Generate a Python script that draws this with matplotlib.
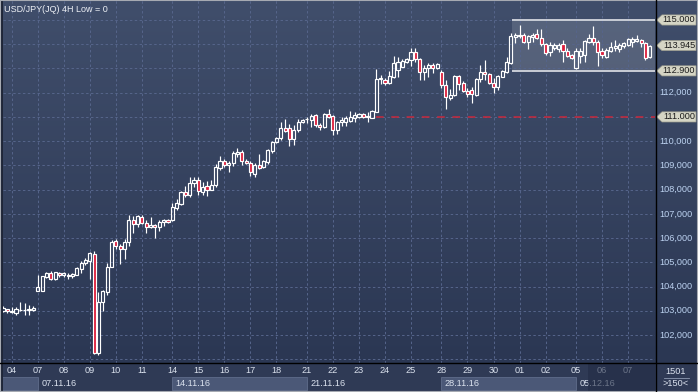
import numpy as np
import matplotlib
matplotlib.use("Agg")
import matplotlib.pyplot as plt
from matplotlib.patches import Rectangle, Polygon
from matplotlib.colors import LinearSegmentedColormap
from matplotlib.lines import Line2D

plt.rcParams['font.family'] = ['Liberation Sans', 'DejaVu Sans']

# 4H candles, USD/JPY, 03.11.16 - 07.12.16 (150 bars)
opens = [
    103.00, 103.07, 102.95, 102.91, 103.03, 103.05, 103.03, 103.03, 103.82, 103.82,
    104.39, 104.56, 104.31, 104.56, 104.48, 104.48, 104.44, 104.48, 104.73, 104.97,
    105.06, 105.34, 101.26, 103.36, 103.77, 104.81, 105.88, 105.67, 105.55, 105.84,
    106.75, 106.58, 106.87, 106.62, 106.46, 106.54, 106.46, 106.66, 106.75, 106.75,
    107.24, 107.41, 107.90, 107.78, 108.27, 108.40, 107.90, 108.15, 107.98, 108.19,
    108.89, 109.18, 109.02, 109.10, 109.47, 109.55, 109.18, 109.10, 108.64, 109.02,
    108.93, 109.14, 109.59, 109.96, 110.13, 110.54, 110.54, 110.09, 110.46, 110.79,
    110.91, 110.87, 111.06, 110.67, 110.58, 111.12, 111.04, 110.46, 110.79, 110.79,
    110.83, 110.96, 111.00, 111.12, 111.00, 110.96, 111.20, 112.57, 112.52, 112.40,
    112.65, 112.94, 113.06, 113.27, 113.35, 113.68, 113.39, 112.85, 113.02, 113.14,
    113.02, 112.85, 112.32, 111.78, 111.90, 112.69, 112.40, 112.07, 112.11, 111.90,
    112.57, 112.85, 112.77, 112.40, 112.23, 112.65, 112.85, 113.23, 114.30, 114.34,
    114.38, 114.09, 114.30, 114.42, 114.26, 114.01, 113.68, 113.84, 113.80, 114.01,
    113.72, 113.56, 113.02, 113.51, 113.56, 114.09, 114.26, 114.09, 113.72, 113.47,
    113.72, 113.84, 113.80, 113.93, 113.97, 114.09, 114.13, 114.17, 114.05, 113.47,
]
highs = [
    103.20, 103.09, 103.16, 103.16, 103.36, 103.32, 103.24, 103.20, 104.48, 104.45,
    104.60, 104.64, 104.62, 104.60, 104.60, 104.56, 104.54, 104.79, 105.05, 105.18,
    105.43, 105.47, 103.77, 103.84, 104.97, 105.92, 105.96, 105.76, 105.96, 106.95,
    106.91, 106.95, 106.95, 106.75, 106.87, 106.58, 106.75, 106.79, 106.79, 107.45,
    107.61, 107.94, 108.15, 108.52, 108.52, 108.52, 108.31, 108.36, 108.40, 109.06,
    109.39, 109.27, 109.18, 109.59, 109.72, 109.63, 109.27, 109.18, 109.10, 109.47,
    109.22, 109.68, 110.01, 110.17, 110.79, 110.91, 110.71, 110.67, 110.91, 110.91,
    111.00, 111.12, 111.14, 110.75, 111.16, 111.33, 111.08, 110.83, 111.00, 111.04,
    111.25, 111.20, 111.16, 111.16, 111.20, 111.27, 112.98, 112.73, 112.61, 112.90,
    113.51, 113.47, 113.39, 113.43, 113.84, 113.84, 113.43, 113.14, 113.23, 113.23,
    113.23, 112.94, 112.52, 112.15, 112.73, 112.73, 112.48, 112.19, 112.23, 112.61,
    113.14, 113.35, 112.81, 112.61, 112.73, 112.94, 113.47, 114.46, 114.46, 114.79,
    114.46, 114.38, 114.46, 114.63, 114.63, 114.05, 114.09, 114.05, 114.05, 114.17,
    113.84, 113.58, 113.84, 113.84, 114.17, 114.42, 114.75, 114.17, 113.84, 113.84,
    114.09, 114.17, 114.05, 114.09, 114.26, 114.30, 114.38, 114.22, 114.09, 113.97,
]
lows = [
    102.95, 102.91, 102.91, 102.83, 102.99, 102.83, 102.83, 102.99, 103.82, 103.82,
    104.35, 104.27, 104.27, 104.39, 104.39, 104.31, 104.35, 104.46, 104.56, 104.89,
    104.31, 101.22, 101.17, 102.99, 103.65, 104.79, 105.55, 104.93, 105.14, 105.67,
    106.21, 106.46, 106.58, 106.21, 106.42, 106.00, 106.29, 106.50, 106.62, 106.71,
    107.16, 107.37, 107.70, 107.70, 108.11, 107.78, 107.78, 107.74, 107.98, 108.11,
    108.81, 108.93, 108.73, 108.97, 109.35, 109.02, 109.06, 108.56, 108.52, 108.87,
    108.89, 109.06, 109.51, 109.92, 110.05, 110.38, 109.80, 109.84, 110.38, 110.75,
    110.75, 110.58, 110.60, 110.46, 110.54, 110.96, 110.25, 110.29, 110.63, 110.63,
    110.79, 110.79, 110.96, 110.96, 110.79, 110.96, 111.20, 112.36, 112.32, 112.36,
    112.61, 112.65, 113.04, 113.23, 113.10, 113.27, 112.52, 112.52, 112.65, 112.81,
    112.98, 112.19, 111.33, 111.70, 111.86, 112.11, 112.03, 111.82, 111.57, 111.86,
    112.44, 112.52, 112.36, 111.99, 112.11, 112.63, 112.81, 113.18, 114.05, 114.26,
    114.05, 113.80, 114.09, 114.22, 113.93, 113.56, 113.51, 113.76, 113.68, 113.27,
    113.47, 113.41, 112.98, 113.23, 113.27, 114.05, 113.97, 113.10, 113.43, 113.43,
    113.68, 113.72, 113.68, 113.84, 113.93, 113.88, 114.09, 113.88, 113.35, 113.43,
]
closes = [
    103.10, 102.99, 102.99, 103.07, 103.05, 103.03, 103.07, 103.11, 103.98, 104.43,
    104.56, 104.31, 104.60, 104.48, 104.56, 104.44, 104.52, 104.77, 104.97, 105.10,
    105.38, 101.26, 103.36, 103.82, 104.81, 105.84, 105.67, 105.55, 105.84, 106.75,
    106.58, 106.91, 106.62, 106.46, 106.54, 106.46, 106.66, 106.75, 106.66, 107.28,
    107.45, 107.90, 107.78, 108.27, 108.40, 107.94, 108.11, 107.98, 108.19, 108.93,
    109.18, 109.02, 109.10, 109.51, 109.55, 109.18, 109.10, 108.73, 109.02, 108.89,
    109.18, 109.63, 109.96, 110.13, 110.54, 110.42, 110.09, 110.46, 110.79, 110.87,
    110.92, 111.04, 110.65, 110.58, 111.12, 111.00, 110.46, 110.79, 110.87, 110.96,
    111.00, 111.08, 111.12, 111.00, 111.04, 111.25, 112.57, 112.61, 112.40, 112.69,
    113.23, 113.27, 113.31, 113.39, 113.68, 113.39, 112.85, 113.02, 113.14, 113.02,
    113.18, 112.32, 111.82, 111.90, 112.69, 112.36, 112.07, 111.95, 111.95, 112.57,
    112.85, 112.77, 112.40, 112.23, 112.69, 112.90, 113.27, 114.34, 114.38, 114.38,
    114.09, 114.34, 114.38, 114.26, 114.01, 113.64, 113.97, 113.97, 113.97, 113.72,
    113.51, 113.43, 113.72, 113.72, 114.13, 114.26, 114.09, 113.68, 113.56, 113.76,
    113.88, 113.93, 113.97, 114.05, 114.22, 114.22, 114.22, 114.05, 113.43, 113.945,
]

# first bar of each day and its label
day_ticks = [2, 8, 14, 20, 26, 32, 39, 45, 51, 57, 63, 70, 76, 82, 88, 94,
             101, 107, 113, 119, 125, 132, 138, 144]
day_labels = ["04", "07", "08", "09", "10", "11", "14", "15", "16", "17", "18",
              "21", "22", "23", "24", "25", "28", "29", "30", "01", "02", "05",
              "06", "07"]
week_starts = [-1, 8, 39, 70, 101, 132]
week_labels = ["", "07.11.16", "14.11.16", "21.11.16", "28.11.16", "05.12.16"]

price_labels = [102, 103, 104, 105, 106, 107, 108, 109, 110, 112]
tag_prices = [115.0, 113.945, 112.9, 111.0]
range_top, range_bottom = 115.0, 112.9
range_start = 117.3
support = 111.0
support_start = 86

W, H = 698, 392
XMIN, XMAX = 0.0, 150.2
YMIN, YMAX = 100.844, 115.825
FS = 6.6

fig = plt.figure(figsize=(W / 100, H / 100), dpi=100)
fig.patch.set_facecolor("#2f3a55")

# gradient background for plot + price axis
bg = fig.add_axes([0, 29 / H, 1, 363 / H])
bg.set_axis_off()
cmap = LinearSegmentedColormap.from_list("bg", ["#2b3753", "#404e6b"])
bg.imshow(np.linspace(0, 1, 256).reshape(-1, 1), cmap=cmap, aspect="auto",
          origin="lower", extent=[0, 1, 0, 1])
bg.set_xlim(0, 1)
bg.set_ylim(0, 1)

ax = fig.add_axes([3 / W, 29 / H, 652 / W, 363 / H])
ax.set_facecolor("none")
ax.set_xlim(XMIN, XMAX)
ax.set_ylim(YMIN, YMAX)
ax.set_xticks(day_ticks)
ax.set_yticks(range(101, 116))
ax.tick_params(length=0, labelbottom=False, labelleft=False)
ax.grid(color="#56658b", lw=0.7, ls=(0, (2.5, 2.5)))
for s in ax.spines.values():
    s.set_visible(False)

# trading range box and support line
ax.add_patch(Rectangle((range_start, range_bottom), XMAX - range_start,
                       range_top - range_bottom, facecolor="white", alpha=0.13,
                       edgecolor="none", zorder=1))
ax.hlines([range_top, range_bottom], range_start, XMAX, color="#c9cdd6", lw=1.4, zorder=2)
ax.hlines(support, support_start, XMAX, color="#c8283c", lw=1.1,
          linestyles=(0, (5, 5)), zorder=2)

o, h, l, c = map(np.array, (opens, highs, lows, closes))
x = np.arange(len(o))
up = c >= o
top = np.maximum(o, c)
bot = np.minimum(o, c)
ax.vlines(x, top, h, color="white", lw=0.85, zorder=3)
ax.vlines(x, l, bot, color="white", lw=0.85, zorder=3)
ax.bar(x[up], (top - bot)[up], bottom=bot[up], width=0.72, facecolor="none",
       edgecolor="white", lw=0.85, zorder=4)
ax.bar(x[~up], (top - bot)[~up], bottom=bot[~up], width=0.72, facecolor="#dc1e3c",
       edgecolor="white", lw=0.85, zorder=4)

fig.text(4 / W, 1 - 9 / H, "USD/JPY(JQ) 4H Low = 0", color="#eef1f6",
         fontsize=6.5, va="center", ha="left")

# price axis
axr = fig.add_axes([655 / W, 29 / H, 43 / W, 363 / H])
axr.set_facecolor("none")
axr.set_xlim(0, 43)
axr.set_ylim(YMIN, YMAX)
axr.set_axis_off()
for p in price_labels:
    axr.text(4, p, f"{p},000", color="#bcd2f0", fontsize=FS, va="center", ha="left")
for p in tag_prices:
    hh = 0.21
    axr.add_patch(Polygon([(1.5, p), (7, p + hh), (41, p + hh), (41, p - hh), (7, p - hh)],
                          closed=True, facecolor="#d5d5c5", edgecolor="#9a9a8c", lw=0.5))
    axr.text(24, p, f"{p:,.3f}", color="#1c1c1c", fontsize=FS, va="center", ha="center")

# time axis
axb = fig.add_axes([3 / W, 0, 652 / W, 29 / H])
axb.set_facecolor("#3b4864")
axb.set_xlim(XMIN, XMAX)
axb.set_ylim(0, 1)
axb.set_axis_off()
for t, lab in zip(day_ticks, day_labels):
    axb.text(t, 0.73, lab, color="#dbe2ee", fontsize=FS, ha="center", va="center")
ends = week_starts[1:] + [XMAX + 2]
for k, (s, e, lab) in enumerate(zip(week_starts, ends, week_labels)):
    if k % 2 == 0:
        axb.add_patch(Rectangle((s, 0.07), e - s, 0.45, facecolor="#4b5877",
                                edgecolor="#5f6c8a", lw=0.6))
    if lab:
        axb.text(s + 0.8, 0.3, lab, color="#dbe2ee", fontsize=FS, ha="left", va="center")
axb.add_patch(Rectangle((134.8, 0), XMAX - 134.8 + 1, 1, facecolor="#222c45",
                        alpha=0.6, edgecolor="none", zorder=5))

# corner
axc = fig.add_axes([655 / W, 0, 43 / W, 29 / H])
axc.set_facecolor("#3b4864")
axc.set_xlim(0, 43)
axc.set_ylim(0, 29)
axc.set_axis_off()
axc.text(21, 21, "1501", color="#dbe2ee", fontsize=FS, ha="center", va="center")
axc.plot([9, 34], [14.5, 14.5], color="#8e9ab2", lw=0.6)
axc.text(21, 8, ">150<", color="#dbe2ee", fontsize=FS, ha="center", va="center")

# separators and frame
fig.add_artist(Line2D([655.5 / W, 655.5 / W], [0, 1], color="black", lw=1.0))
fig.add_artist(Line2D([0, 1], [29 / H, 29 / H], color="black", lw=1.0))
fig.add_artist(Rectangle((0, 0), 3 / W, 1, transform=fig.transFigure,
                         facecolor="#1f2638", edgecolor="none"))
fig.add_artist(Rectangle((0, 0), 1, 1, transform=fig.transFigure, fill=False,
                         edgecolor="#a6aab2", lw=1.5))

fig.savefig("out.png", dpi=100)
